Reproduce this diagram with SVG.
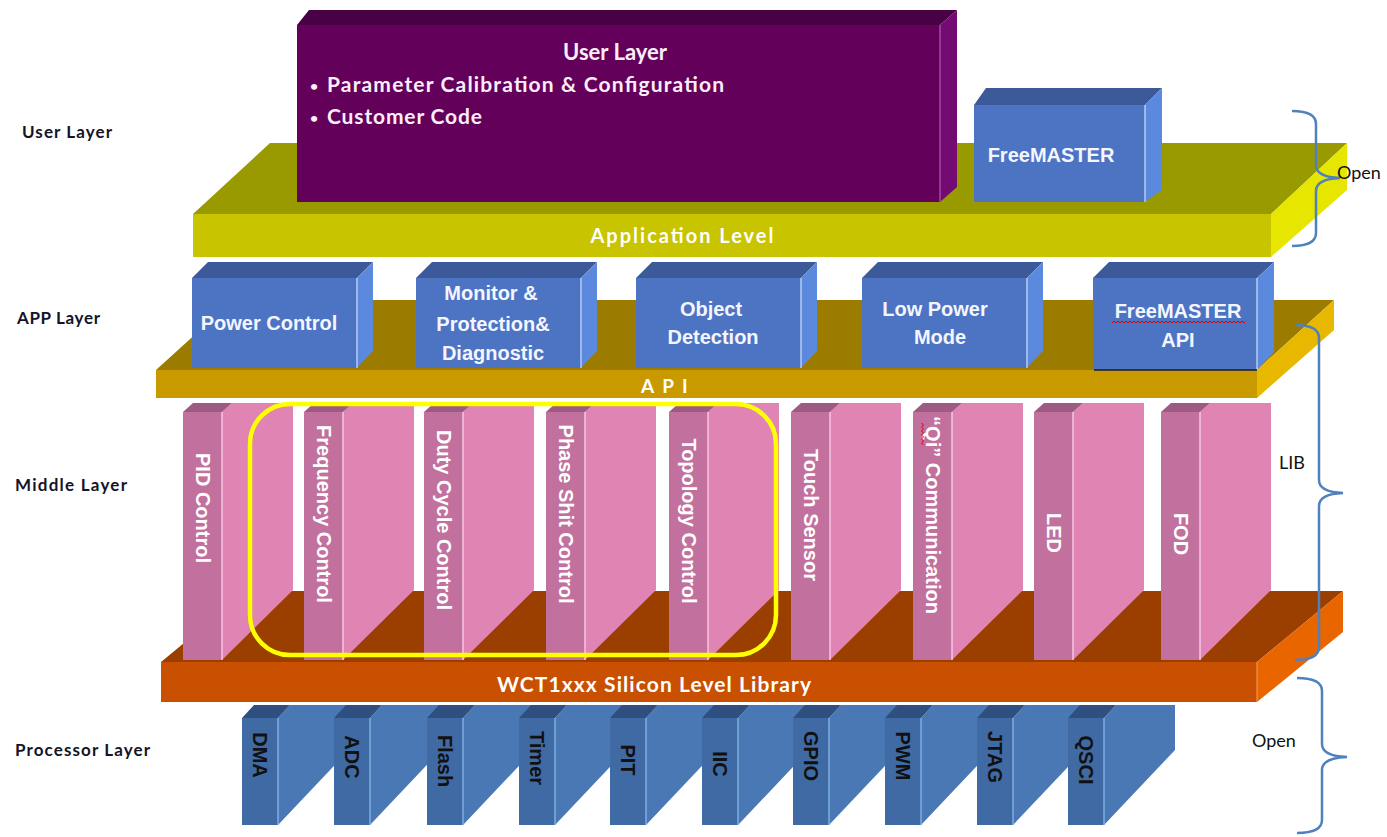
<svg xmlns="http://www.w3.org/2000/svg" width="1387" height="837" viewBox="0 0 1387 837">
<defs>
<style>
.cal{font-family:Lato,"Liberation Sans",sans-serif;font-weight:bold}
.ari{font-family:"Liberation Sans",Arial,sans-serif;font-weight:bold}
.lbl{font-family:Lato,"Liberation Sans",sans-serif;font-weight:bold;font-size:17px;fill:#141428}
.note{font-family:Lato,"Liberation Sans",sans-serif;font-size:18px;fill:#111}
.bf{fill:#4d73c3}.bt{fill:#3c5a9a}.bs{fill:#5b89dd}
.bl{stroke:#b5cdf3;stroke-width:1.5}
.pf{fill:#c2709e}.pt{fill:#9d5a82}.ps{fill:#e084b4}
.pl{stroke:#f7c6e3;stroke-width:1.5}
.qf{fill:#3f6aa3}.qt{fill:#2e4f80}.qs{fill:#4a78b4}
.ql{stroke:#7eaee3;stroke-width:1.5}
.btx{font-family:"Liberation Sans",Arial,sans-serif;font-weight:bold;font-size:20px;fill:#f4f6ff;text-anchor:middle}
.ptx{font-family:"Liberation Sans",Arial,sans-serif;font-weight:bold;font-size:20px;fill:#fff;text-anchor:middle;dominant-baseline:central}
.qtx{font-family:"Liberation Sans",Arial,sans-serif;font-weight:bold;font-size:20px;fill:#111;text-anchor:middle;dominant-baseline:central}
.brace{fill:none;stroke:#4f81bd;stroke-width:2.5}
</style>
<pattern id="sq" width="4" height="4" patternUnits="userSpaceOnUse"><path d="M0 3 L2 1 L4 3" fill="none" stroke="#e00000" stroke-width="1"/></pattern>
</defs>
<rect width="1387" height="837" fill="#ffffff"/>

<!-- left labels -->
<g id="labels">
<text class="lbl" x="22" y="138" textLength="90" lengthAdjust="spacing">User Layer</text>
<text class="lbl" x="17" y="324" textLength="83" lengthAdjust="spacing">APP Layer</text>
<text class="lbl" x="15" y="491" textLength="112" lengthAdjust="spacing">Middle Layer</text>
<text class="lbl" x="15" y="756" textLength="135" lengthAdjust="spacing">Processor Layer</text>
</g>

<!-- Application level slab -->
<g id="application-level">
<polygon points="193,214 270,143 1347,143 1271,214" fill="#999900"/>
<rect x="193" y="214" width="1078" height="43" fill="#c8c400"/>
<polygon points="1271,214 1347,143 1347,190 1271,257" fill="#e6e600"/>
<text class="cal" x="682" y="243" font-size="20" fill="#ffffff" text-anchor="middle" textLength="183" lengthAdjust="spacing">Application Level</text>
</g>

<!-- User layer box -->
<g id="user-layer">
<polygon points="297,25 309,10 957,10 940,25" fill="#4a0044"/>
<rect x="297" y="25" width="643" height="177" fill="#62005a"/>
<polygon points="940,25 957,10 957,187 940,202" fill="#730b72"/>
<line x1="940" y1="25" x2="940" y2="202" stroke="#a548a5" stroke-width="1.5"/>
<text class="cal" x="615" y="60" font-size="22" fill="#fbeefb" text-anchor="middle" textLength="104" lengthAdjust="spacing">User Layer</text>
<text class="cal" x="310" y="91" font-size="14" fill="#fbeefb">•</text>
<text class="cal" x="327" y="92" font-size="21" fill="#fbeefb" textLength="397" lengthAdjust="spacing">Parameter Calibration &amp; Configuration</text>
<text class="cal" x="310" y="123" font-size="14" fill="#fbeefb">•</text>
<text class="cal" x="327" y="124" font-size="21" fill="#fbeefb" textLength="155" lengthAdjust="spacing">Customer Code</text>
</g>

<!-- FreeMASTER box -->
<g id="freemaster">
<polygon class="bt" points="974,105 986,88 1162,88 1145,105"/>
<rect class="bf" x="974" y="105" width="171" height="97"/>
<polygon class="bs" points="1145,105 1162,88 1162,190 1145,202"/>
<line class="bl" x1="1145" y1="105" x2="1145" y2="202"/>
<text class="btx" x="1051" y="162">FreeMASTER</text>
</g>

<!-- API slab -->
<g id="api">
<polygon points="156,370 233,300 1334,300 1257,370" fill="#9b7b00"/>
<rect x="156" y="370" width="1101" height="28" fill="#c99a00"/>
<polygon points="1257,370 1334,300 1334,330 1257,398" fill="#e8b800"/>
<text class="cal" x="641" y="393" font-size="19" fill="#ffffff" letter-spacing="8">API</text>
</g>

<!-- APP layer boxes -->
<g id="power-control">
<polygon class="bt" points="192,278 208,262 373,262 357,278"/>
<rect class="bf" x="192" y="278" width="165" height="90"/>
<polygon class="bs" points="357,278 373,262 373,351 357,368"/>
<line class="bl" x1="357" y1="278" x2="357" y2="368"/>
<text class="btx" x="269" y="330" font-size="19.5">Power Control</text>
</g>
<g id="monitor-protection">
<polygon class="bt" points="416,278 432,262 597,262 581,278"/>
<rect class="bf" x="416" y="278" width="165" height="90"/>
<polygon class="bs" points="581,278 597,262 597,351 581,368"/>
<line class="bl" x1="581" y1="278" x2="581" y2="368"/>
<text class="btx" x="491" y="300">Monitor &amp;</text>
<text class="btx" x="493" y="331">Protection&amp;</text>
<text class="btx" x="493" y="360">Diagnostic</text>
</g>
<g id="object-detection">
<polygon class="bt" points="636,278 652,262 817,262 801,278"/>
<rect class="bf" x="636" y="278" width="165" height="90"/>
<polygon class="bs" points="801,278 817,262 817,351 801,368"/>
<line class="bl" x1="801" y1="278" x2="801" y2="368"/>
<text class="btx" x="711" y="316" font-size="21">Object</text>
<text class="btx" x="713" y="344" font-size="21">Detection</text>
</g>
<g id="low-power-mode">
<polygon class="bt" points="862,278 878,262 1043,262 1027,278"/>
<rect class="bf" x="862" y="278" width="165" height="90"/>
<polygon class="bs" points="1027,278 1043,262 1043,351 1027,368"/>
<line class="bl" x1="1027" y1="278" x2="1027" y2="368"/>
<text class="btx" x="935" y="316" font-size="21">Low Power</text>
<text class="btx" x="940" y="344" font-size="21">Mode</text>
</g>
<g id="freemaster-api">
<polygon class="bt" points="1093,278 1109,262 1274,262 1257,278"/>
<rect class="bf" x="1093" y="278" width="164" height="92"/>
<polygon class="bs" points="1257,278 1274,262 1274,352 1257,370"/>
<line class="bl" x1="1257" y1="278" x2="1257" y2="370"/>
<line x1="1094" y1="370" x2="1257" y2="370" stroke="#1a1a2a" stroke-width="1.5"/>
<text class="btx" x="1178" y="318" font-size="21">FreeMASTER</text>
<rect x="1112" y="320" width="133" height="4" fill="url(#sq)"/>
<text class="btx" x="1178" y="347" font-size="21">API</text>
</g>

<!-- Middle base slab -->
<g id="silicon-library">
<polygon points="161,662 247,591 1343,591 1257,662" fill="#9b3f00"/>
<rect x="161" y="662" width="1096" height="40" fill="#c85000"/>
<polygon points="1257,662 1343,591 1343,632 1257,702" fill="#e86500"/>
<line x1="1257" y1="662" x2="1257" y2="702" stroke="#f3a060" stroke-width="1"/>
<text class="cal" x="654" y="692" font-size="21" fill="#ffffff" text-anchor="middle" textLength="314" lengthAdjust="spacing">WCT1xxx Silicon Level Library</text>
</g>

<!-- Middle layer pillars -->
<g id="pid-control">
<polygon class="ps" points="222,412 232,403 293,403 293,590 222,660"/>
<polygon class="pt" points="183,412 193,403 232,403 222,412"/>
<rect class="pf" x="183" y="412" width="39" height="248"/>
<line class="pl" x1="222" y1="412" x2="222" y2="660"/>
<text class="ptx" transform="translate(202.5,508) rotate(90)">PID Control</text>
</g>
<g id="frequency-control">
<polygon class="ps" points="343,412 353,403 414,403 414,590 343,660"/>
<polygon class="pt" points="304,412 314,403 353,403 343,412"/>
<rect class="pf" x="304" y="412" width="39" height="248"/>
<line class="pl" x1="343" y1="412" x2="343" y2="660"/>
<text class="ptx" transform="translate(323.5,514) rotate(90)">Frequency Control</text>
</g>
<g id="duty-cycle-control">
<polygon class="ps" points="463,412 473,403 534,403 534,590 463,660"/>
<polygon class="pt" points="424,412 434,403 473,403 463,412"/>
<rect class="pf" x="424" y="412" width="39" height="248"/>
<line class="pl" x1="463" y1="412" x2="463" y2="660"/>
<text class="ptx" transform="translate(443.5,520) rotate(90)">Duty Cycle Control</text>
</g>
<g id="phase-shift-control">
<polygon class="ps" points="585,412 595,403 656,403 656,590 585,660"/>
<polygon class="pt" points="546,412 556,403 595,403 585,412"/>
<rect class="pf" x="546" y="412" width="39" height="248"/>
<line class="pl" x1="585" y1="412" x2="585" y2="660"/>
<text class="ptx" transform="translate(565.5,514) rotate(90)">Phase Shit Control</text>
</g>
<g id="topology-control">
<polygon class="ps" points="708,412 718,403 779,403 779,590 708,660"/>
<polygon class="pt" points="669,412 679,403 718,403 708,412"/>
<rect class="pf" x="669" y="412" width="39" height="248"/>
<line class="pl" x1="708" y1="412" x2="708" y2="660"/>
<text class="ptx" transform="translate(688.5,521) rotate(90)">Topology Control</text>
</g>
<g id="touch-sensor">
<polygon class="ps" points="830,412 840,403 901,403 901,590 830,660"/>
<polygon class="pt" points="791,412 801,403 840,403 830,412"/>
<rect class="pf" x="791" y="412" width="39" height="248"/>
<line class="pl" x1="830" y1="412" x2="830" y2="660"/>
<text class="ptx" transform="translate(810.5,515) rotate(90)">Touch Sensor</text>
</g>
<g id="qi-communication">
<polygon class="ps" points="952,412 962,403 1023,403 1023,590 952,660"/>
<polygon class="pt" points="913,412 923,403 962,403 952,412"/>
<rect class="pf" x="913" y="412" width="39" height="248"/>
<line class="pl" x1="952" y1="412" x2="952" y2="660"/>
<g transform="translate(932.5,515) rotate(90)">
<text class="ptx" x="0" y="0">“Qi” Communication</text>
<rect x="-92" y="8" width="22" height="4" fill="url(#sq)"/>
</g>
</g>
<g id="led">
<polygon class="ps" points="1073,412 1083,403 1144,403 1144,590 1073,660"/>
<polygon class="pt" points="1034,412 1044,403 1083,403 1073,412"/>
<rect class="pf" x="1034" y="412" width="39" height="248"/>
<line class="pl" x1="1073" y1="412" x2="1073" y2="660"/>
<text class="ptx" transform="translate(1053.5,533) rotate(90)">LED</text>
</g>
<g id="fod">
<polygon class="ps" points="1200,412 1210,403 1271,403 1271,590 1200,660"/>
<polygon class="pt" points="1161,412 1171,403 1210,403 1200,412"/>
<rect class="pf" x="1161" y="412" width="39" height="248"/>
<line class="pl" x1="1200" y1="412" x2="1200" y2="660"/>
<text class="ptx" transform="translate(1180.5,534) rotate(90)">FOD</text>
</g>

<!-- highlight frame -->
<g id="highlight">
<rect x="250" y="404" width="526" height="251" rx="40" ry="40" fill="none" stroke="#ffff00" stroke-width="4.5"/>
</g>

<!-- Processor layer pillars -->
<g id="dma">
<polygon class="qs" points="278,718 290,705 349,705 349,750 278,825"/>
<polygon class="qt" points="242,718 254,705 290,705 278,718"/>
<rect class="qf" x="242" y="718" width="36" height="107"/>
<line class="ql" x1="278" y1="718" x2="278" y2="825"/>
<text class="qtx" transform="translate(260,755) rotate(90)">DMA</text>
</g>
<g id="adc">
<polygon class="qs" points="370,718 382,705 441,705 441,750 370,825"/>
<polygon class="qt" points="334,718 346,705 382,705 370,718"/>
<rect class="qf" x="334" y="718" width="36" height="107"/>
<line class="ql" x1="370" y1="718" x2="370" y2="825"/>
<text class="qtx" transform="translate(352,757) rotate(90)">ADC</text>
</g>
<g id="flash">
<polygon class="qs" points="463,718 475,705 534,705 534,750 463,825"/>
<polygon class="qt" points="427,718 439,705 475,705 463,718"/>
<rect class="qf" x="427" y="718" width="36" height="107"/>
<line class="ql" x1="463" y1="718" x2="463" y2="825"/>
<text class="qtx" transform="translate(445,761) rotate(90)">Flash</text>
</g>
<g id="timer">
<polygon class="qs" points="555,718 567,705 626,705 626,750 555,825"/>
<polygon class="qt" points="519,718 531,705 567,705 555,718"/>
<rect class="qf" x="519" y="718" width="36" height="107"/>
<line class="ql" x1="555" y1="718" x2="555" y2="825"/>
<text class="qtx" transform="translate(537,758) rotate(90)">Timer</text>
</g>
<g id="pit">
<polygon class="qs" points="646,718 658,705 717,705 717,750 646,825"/>
<polygon class="qt" points="610,718 622,705 658,705 646,718"/>
<rect class="qf" x="610" y="718" width="36" height="107"/>
<line class="ql" x1="646" y1="718" x2="646" y2="825"/>
<text class="qtx" transform="translate(628,760) rotate(90)">PIT</text>
</g>
<g id="iic">
<polygon class="qs" points="738,718 750,705 809,705 809,750 738,825"/>
<polygon class="qt" points="702,718 714,705 750,705 738,718"/>
<rect class="qf" x="702" y="718" width="36" height="107"/>
<line class="ql" x1="738" y1="718" x2="738" y2="825"/>
<text class="qtx" transform="translate(720,764) rotate(90)">IIC</text>
</g>
<g id="gpio">
<polygon class="qs" points="829,718 841,705 900,705 900,750 829,825"/>
<polygon class="qt" points="793,718 805,705 841,705 829,718"/>
<rect class="qf" x="793" y="718" width="36" height="107"/>
<line class="ql" x1="829" y1="718" x2="829" y2="825"/>
<text class="qtx" transform="translate(811,756) rotate(90)">GPIO</text>
</g>
<g id="pwm">
<polygon class="qs" points="921,718 933,705 992,705 992,750 921,825"/>
<polygon class="qt" points="885,718 897,705 933,705 921,718"/>
<rect class="qf" x="885" y="718" width="36" height="107"/>
<line class="ql" x1="921" y1="718" x2="921" y2="825"/>
<text class="qtx" transform="translate(903,756) rotate(90)">PWM</text>
</g>
<g id="jtag">
<polygon class="qs" points="1013,718 1025,705 1084,705 1084,750 1013,825"/>
<polygon class="qt" points="977,718 989,705 1025,705 1013,718"/>
<rect class="qf" x="977" y="718" width="36" height="107"/>
<line class="ql" x1="1013" y1="718" x2="1013" y2="825"/>
<text class="qtx" transform="translate(995,757) rotate(90)">JTAG</text>
</g>
<g id="qsci">
<polygon class="qs" points="1104,718 1116,705 1175,705 1175,750 1104,825"/>
<polygon class="qt" points="1068,718 1080,705 1116,705 1104,718"/>
<rect class="qf" x="1068" y="718" width="36" height="107"/>
<line class="ql" x1="1104" y1="718" x2="1104" y2="825"/>
<text class="qtx" transform="translate(1086,760) rotate(90)">QSCI</text>
</g>

<!-- braces -->
<g id="connectors">
<path class="brace" d="M1292,111 Q1316,111 1316,124 L1316,165 Q1316,177 1340,178 Q1316,179 1316,191 L1316,233 Q1316,246 1292,246"/>
<path class="brace" d="M1295,325 Q1319,325 1319,338 L1319,480 Q1319,492 1343,493 Q1319,494 1319,506 L1319,647 Q1319,660 1295,660"/>
<path class="brace" d="M1297,678 Q1322,678 1322,691 L1322,744 Q1322,756 1347,757 Q1322,758 1322,770 L1322,820 Q1322,833 1297,833"/>
</g>
<g id="brace-labels">
<text class="note" x="1337" y="179">Open</text>
<text class="note" x="1279" y="469">LIB</text>
<text class="note" x="1252" y="747">Open</text>
</g>
</svg>
